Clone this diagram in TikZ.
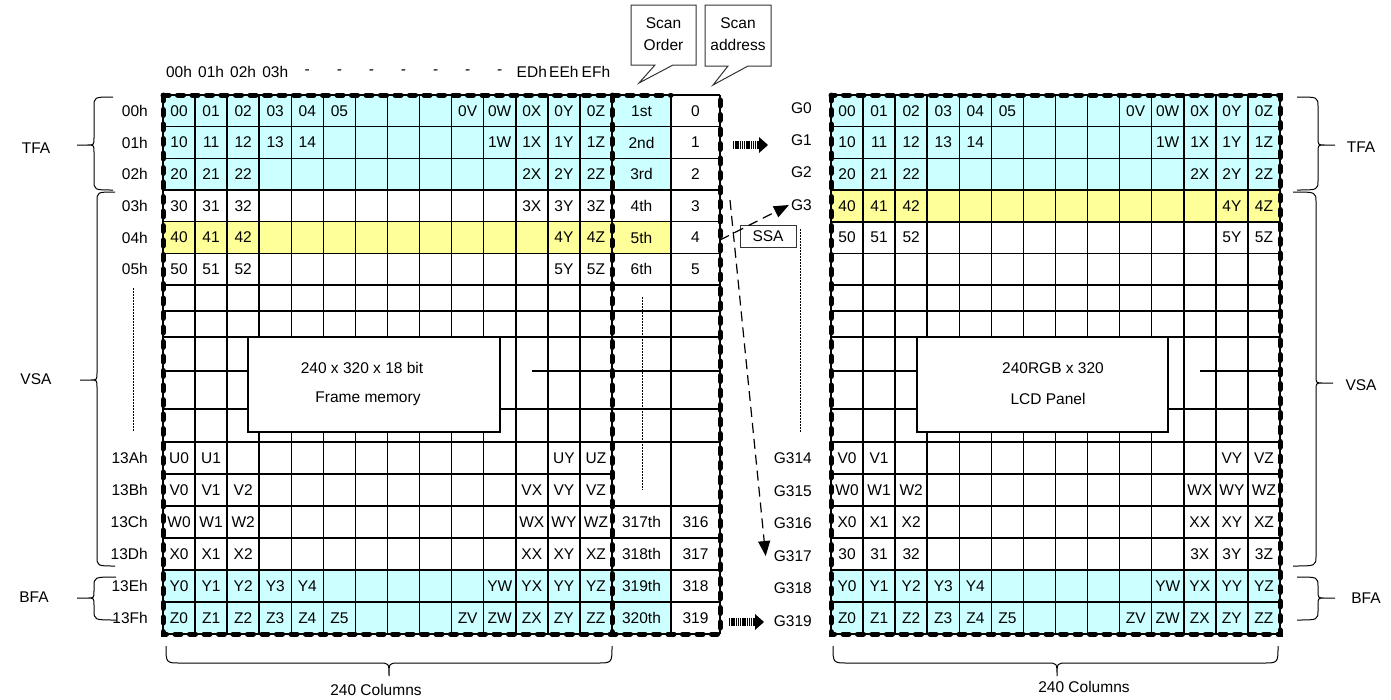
\documentclass[tikz,border=0pt]{standalone}
\usepackage{fontspec}
\setmainfont{Liberation Sans}
\usetikzlibrary{arrows.meta}
\definecolor{cy}{HTML}{CCFFFF}
\definecolor{yl}{HTML}{FFFF99}
\tikzset{
  txt/.style={inner sep=0pt, font=\fontsize{15.5}{18}\selectfont},
  gridline/.style={line width=1.5pt, black},
  borderdash/.style={line width=5pt, line cap=round, dash pattern=on 6pt off 8.5pt},
  braceline/.style={line width=1pt, black},
  dotline/.style={line width=1pt, dash pattern=on 1.5pt off 1.5pt},
  dasharrow/.style={line width=1.2pt, dash pattern=on 10pt off 6pt, -{Triangle[length=15pt,width=12pt]}},
  callout/.style={line width=1pt, draw=black!80, fill=white},
  panelbox/.style={draw, fill=white, line width=1.5pt, inner sep=0pt},
  stripe/.style={line width=8pt, dash pattern=on 1.3pt off 0.9pt},
}
\newcommand\BraceL[6]{\draw[braceline] (#1,#4) .. controls (#2,#4) .. (#2,#4+10) -- (#2,#5-7) .. controls (#2,#5) .. (#2-7,#5) -- (#3,#5) (#2-7,#5) .. controls (#2,#5) .. (#2,#5+7) -- (#2,#6-10) .. controls (#2,#6) .. (#1,#6);}
\newcommand\BraceR[6]{\draw[braceline] (#1,#4) .. controls (#2,#4) .. (#2,#4+10) -- (#2,#5-7) .. controls (#2,#5) .. (#2+7,#5) -- (#3,#5) (#2+7,#5) .. controls (#2,#5) .. (#2,#5+7) -- (#2,#6-10) .. controls (#2,#6) .. (#1,#6);}
\newcommand\BraceD[6]{\draw[braceline] (#4,#1) .. controls (#4,#2) .. (#4+15,#2) -- (#5-10,#2) .. controls (#5,#2) .. (#5,#3) .. controls (#5,#2) .. (#5+10,#2) -- (#6-15,#2) .. controls (#6,#2) .. (#6,#1);}
\newcommand\cells[4]{\foreach \c/\t in {#4} \node (#1-\c) at ({#2+(\c+0.5)*32.07},#3) {\t};}
\begin{document}
\begin{tikzpicture}[x=1pt,y=-1pt, every node/.style={txt}]
\useasboundingbox (0,0) rectangle (1391,699);
\def\cw{32.07}
\def\lx{163}
\def\rx{831}
% ---------- fills
\fill[cy] (\lx,95) rectangle (671,190);
\fill[yl] (\lx,221.7) rectangle (671,253.3);
\fill[cy] (\lx,570) rectangle (671,634);
\fill[cy] (\rx,95) rectangle (1280,190);
\fill[yl] (\rx,190) rectangle (1280,221.7);
\fill[cy] (\rx,570) rectangle (1280,634);
% ---------- left grid
\foreach \i in {1,...,13} \draw[gridline] ({\lx+\i*\cw},95) -- ({\lx+\i*\cw},634);
\draw[gridline] (671,95) -- (671,634);
\foreach \y in {95,126.7,158.3,190,221.7,253.3,285,311,337,409,442,506,538,570,602,634}
  \draw[gridline] (\lx,\y) -- (720,\y);
\draw[gridline] (\lx,474) -- (612,474);
\draw[gridline] (\lx,371) -- (248,371) (532,371) -- (720,371);
\draw[gridline] (\lx,95) -- (\lx,634) (612,95) -- (612,634) (720,95) -- (720,634);
\node[panelbox, minimum width=252pt, minimum height=95pt] (fm) at (374,384.5) {};
\node (fm1) at (362,368) {240 x 320 x 18 bit};
\node (fm2) at (368,399) {Frame memory};
\draw[dotline] (642,297) -- (642,490);
\draw[borderdash] (\lx,95) -- (671,95);
\draw[borderdash] (\lx,95) -- (\lx,634) -- (720,634) -- (720,95);
\draw[borderdash] (612,95) -- (612,634);
% ---------- right grid
\foreach \i in {1,...,13} \draw[gridline] ({\rx+\i*\cw},95) -- ({\rx+\i*\cw},634);
\foreach \y in {95,126.7,158.3,190,221.7,253.3,285,311,337,409,442,474,506,538,570,602,634}
  \draw[gridline] (\rx,\y) -- (1280,\y);
\draw[gridline] (\rx,371) -- (917,371) (1200,371) -- (1280,371);
\draw[gridline] (\rx,95) -- (\rx,634) (1280,95) -- (1280,634);
\node[panelbox, minimum width=251pt, minimum height=95pt] (lcd) at (1042.5,384.5) {};
\node (lcd1) at (1053,368) {240RGB x 320};
\node (lcd2) at (1048,399) {LCD Panel};
\draw[line width=2.2pt] (\rx,190) rectangle (1280,221.7);
\draw[borderdash] (\rx,95) rectangle (1280,634);
% ---------- left cells
\cells{La}{\lx}{110.8}{0/00,1/01,2/02,3/03,4/04,5/05,9/0V,10/0W,11/0X,12/0Y,13/0Z}
\cells{Lb}{\lx}{142.5}{0/10,1/11,2/12,3/13,4/14,10/1W,11/1X,12/1Y,13/1Z}
\cells{Lc}{\lx}{174.2}{0/20,1/21,2/22,11/2X,12/2Y,13/2Z}
\cells{Ld}{\lx}{205.8}{0/30,1/31,2/32,11/3X,12/3Y,13/3Z}
\cells{Le}{\lx}{237.5}{0/40,1/41,2/42,12/4Y,13/4Z}
\cells{Lf}{\lx}{269.2}{0/50,1/51,2/52,12/5Y,13/5Z}
\cells{Lg}{\lx}{458}{0/U0,1/U1,12/UY,13/UZ}
\cells{Lh}{\lx}{490}{0/V0,1/V1,2/V2,11/VX,12/VY,13/VZ}
\cells{Li}{\lx}{522}{0/W0,1/W1,2/W2,11/WX,12/WY,13/WZ}
\cells{Lj}{\lx}{554}{0/X0,1/X1,2/X2,11/XX,12/XY,13/XZ}
\cells{Lk}{\lx}{586}{0/Y0,1/Y1,2/Y2,3/Y3,4/Y4,10/YW,11/YX,12/YY,13/YZ}
\cells{Ll}{\lx}{618}{0/Z0,1/Z1,2/Z2,3/Z3,4/Z4,5/Z5,9/ZV,10/ZW,11/ZX,12/ZY,13/ZZ}
% ---------- right cells
\cells{Ra}{\rx}{110.8}{0/00,1/01,2/02,3/03,4/04,5/05,9/0V,10/0W,11/0X,12/0Y,13/0Z}
\cells{Rb}{\rx}{142.5}{0/10,1/11,2/12,3/13,4/14,10/1W,11/1X,12/1Y,13/1Z}
\cells{Rc}{\rx}{174.2}{0/20,1/21,2/22,11/2X,12/2Y,13/2Z}
\cells{Rd}{\rx}{205.8}{0/40,1/41,2/42,12/4Y,13/4Z}
\cells{Re}{\rx}{237.5}{0/50,1/51,2/52,12/5Y,13/5Z}
\cells{Rg}{\rx}{458}{0/V0,1/V1,12/VY,13/VZ}
\cells{Rh}{\rx}{490}{0/W0,1/W1,2/W2,11/WX,12/WY,13/WZ}
\cells{Ri}{\rx}{522}{0/X0,1/X1,2/X2,11/XX,12/XY,13/XZ}
\cells{Rj}{\rx}{554}{0/30,1/31,2/32,11/3X,12/3Y,13/3Z}
\cells{Rk}{\rx}{586}{0/Y0,1/Y1,2/Y2,3/Y3,4/Y4,10/YW,11/YX,12/YY,13/YZ}
\cells{Rl}{\rx}{618}{0/Z0,1/Z1,2/Z2,3/Z3,4/Z4,5/Z5,9/ZV,10/ZW,11/ZX,12/ZY,13/ZZ}
% ---------- scan order / address
\foreach \y/\t/\n in {110.8/1st/1,142.5/2nd/2,174.2/3rd/3,205.8/4th/4,237.5/5th/5,269.2/6th/6,522/317th/317,554/318th/318,586/319th/319,618/320th/320}
  \node (so\n) at (641.5,\y) {\t};
\foreach \y/\t in {110.8/0,142.5/1,174.2/2,205.8/3,237.5/4,269.2/5,522/316,554/317,586/318,618/319}
  \node (sa\t) at (695.5,\y) {\t};
% ---------- column headers
\foreach \c/\t in {0/00h,1/01h,2/02h,3/03h,4/-,5/-,6/-,7/-,8/-,9/-,10/-,11/EDh,12/EEh,13/EFh}
  \node (hd\c) at ({\lx+(\c+0.5)*\cw},72) {\t};
% ---------- row labels
\foreach \y/\t in {110.8/00h,142.5/01h,174.2/02h,205.8/03h,237.5/04h,269.2/05h,458/13Ah,490/13Bh,522/13Ch,554/13Dh,586/13Eh,618/13Fh}
  \node[anchor=east] (rl\t) at (148,\y) {\t};
\draw[dotline] (133,288) -- (133,432);
\foreach \y/\t in {108/G0,140/G1,172/G2,205/G3,458/G314,491/G315,523/G316,556/G317,588/G318,621/G319}
  \node[anchor=east] (\t) at (812,\y) {\t};
\draw[dotline] (800,229) -- (800,432);
% ---------- braces and area labels
\BraceL{113}{94}{77}{97}{145}{190}
\BraceL{115}{97}{80}{192}{380}{566}
\BraceL{116}{94}{77}{577}{598}{620}
\node (tfaL) at (36,148) {TFA};
\node (vsaL) at (36,379) {VSA};
\node (bfaL) at (34,597) {BFA};
\BraceR{1297}{1318}{1335}{97}{145}{190}
\BraceR{1293}{1316}{1333}{192}{383}{566}
\BraceR{1297}{1318}{1335}{577}{598}{620}
\node (tfaR) at (1361,147) {TFA};
\node (vsaR) at (1361,385) {VSA};
\node (bfaR) at (1366,598) {BFA};
\BraceD{646}{663}{676}{166}{389}{612}
\BraceD{646}{663}{676}{833}{1057}{1278}
\node (colL) at (376,690) {240 Columns};
\node (colR) at (1084,687) {240 Columns};
% ---------- callouts
\draw[callout] (631,5) -- (696,5) -- (696,65) -- (673,65) -- (639,83) -- (655,65) -- (631,65) -- cycle;
\node (so-a) at (663.5,23) {Scan};
\node (so-b) at (663.5,45) {Order};
\draw[callout] (705,5) -- (771,5) -- (771,66) -- (748,66) -- (713,85) -- (728,66) -- (705,66) -- cycle;
\node (sa-a) at (738,23) {Scan};
\node (sa-b) at (738,45) {address};
% ---------- arrows
\node[draw=black!80, line width=1pt, minimum width=56pt, minimum height=22pt] (ssa) at (768,236) {SSA};
\coordinate (p4) at (720,240);
\coordinate (p0) at (730,200);
\draw[dasharrow] (p4) -- ([xshift=-2pt]G3.west);
\draw[dasharrow] (p0) -- ([xshift=-8pt]G317.west);
\draw[stripe] (733,145) -- (761,145);
\fill (759,137) -- (768,145) -- (759,153) -- cycle;
\draw[stripe] (729,622) -- (757,622);
\fill (755,614) -- (764,622) -- (755,630) -- cycle;
\end{tikzpicture}
\end{document}
